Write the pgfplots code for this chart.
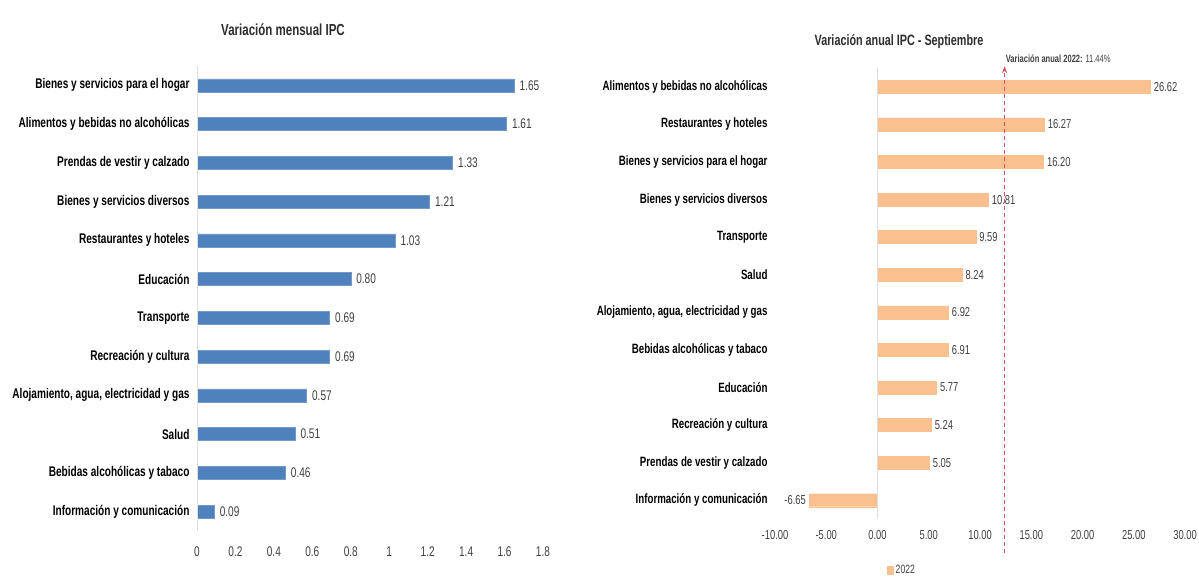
\documentclass[border=0pt]{standalone}
\usepackage{fontspec}
\setmainfont{Liberation Sans}[FakeStretch=0.72]
\usepackage{pgfplots}
\usepackage{pgfplotstable}
\pgfplotsset{compat=1.18}
\usetikzlibrary{arrows.meta}

\definecolor{barblue}{RGB}{79,129,189}
\definecolor{barpeach}{RGB}{250,192,143}
\definecolor{txtgray}{RGB}{64,64,64}
\definecolor{linered}{RGB}{215,80,95}

% mensual, de abajo hacia arriba
\pgfplotstableread{
idx val
0 0.09
1 0.46
2 0.51
3 0.57
4 0.69
5 0.69
6 0.80
7 1.03
8 1.21
9 1.33
10 1.61
11 1.65
}\mensual

% anual, de abajo hacia arriba
\pgfplotstableread{
idx val
0 -6.65
1 5.05
2 5.24
3 5.77
4 6.91
5 6.92
6 8.24
7 9.59
8 10.81
9 16.20
10 16.27
11 26.62
}\anual

\newcommand\catfont{\fontsize{14}{16}\selectfont\bfseries}
\newcommand\numfont{\fontsize{14}{16}\selectfont}

\begin{document}
\begin{tikzpicture}
\useasboundingbox (0,0) rectangle (1199pt,576pt);

\node[font=\fontsize{16}{18}\selectfont\bfseries, text=txtgray!70!black] at (283pt,546pt) {Variación mensual IPC};
\node[font=\fontsize{15}{17}\selectfont\bfseries, text=txtgray!70!black] at (899pt,534pt) {Variación anual IPC - Septiembre};

\begin{axis}[
    at={(197pt,45pt)}, anchor=south west,
    scale only axis, width=346pt, height=465pt,
    xbar, bar width=13pt,
    xmin=0, xmax=1.8, ymin=-0.5, ymax=11.5,
    axis line style={draw=none},
    major tick length=0pt,
    xtick={0,0.2,0.4,0.6,0.8,1,1.2,1.4,1.6,1.8},
    ytick={0,1,2,3,4,5,6,7,8,9,10,11},
    yticklabels={Información y comunicación, Bebidas alcohólicas y tabaco, Salud,
        {Alojamiento, agua, electricidad y gas}, Recreación y cultura, Transporte,
        Educación, Restaurantes y hoteles, Bienes y servicios diversos,
        Prendas de vestir y calzado, Alimentos y bebidas no alcohólicas,
        Bienes y servicios para el hogar},
    yticklabel style={font=\catfont, text=black, xshift=-4pt},
    xticklabel style={font=\numfont, text=txtgray, yshift=-12pt},
    /pgf/number format/assume math mode=true,
    nodes near coords,
    nodes near coords style={font=\numfont, text=txtgray, xshift=2pt,
        /pgf/number format/.cd, fixed, fixed zerofill, precision=2, assume math mode=true},
    clip=false,
]
\addplot[fill=barblue, draw=barblue!80!white] table[x=val, y=idx] {\mensual};
\draw[gray!25] (axis cs:0,-0.5) -- (axis cs:0,11.5);
\end{axis}

\begin{axis}[
    at={(775pt,57pt)}, anchor=south west,
    scale only axis, width=410pt, height=451pt,
    xbar, bar width=13pt,
    xmin=-10, xmax=30, ymin=-0.5, ymax=11.5,
    axis line style={draw=none},
    major tick length=0pt,
    xtick={-10,-5,0,5,10,15,20,25,30},
    ytick={0,1,2,3,4,5,6,7,8,9,10,11},
    yticklabels={Información y comunicación, Prendas de vestir y calzado,
        Recreación y cultura, Educación, Bebidas alcohólicas y tabaco,
        {Alojamiento, agua, electricidad y gas}, Salud, Transporte,
        Bienes y servicios diversos, Bienes y servicios para el hogar,
        Restaurantes y hoteles, Alimentos y bebidas no alcohólicas},
    yticklabel style={font=\fontsize{13.5}{15}\selectfont\bfseries, text=black, xshift=-4pt},
    xticklabel style={font=\fontsize{13}{15}\selectfont, text=txtgray, yshift=-8pt,
        /pgf/number format/.cd, fixed, fixed zerofill, precision=2},
    /pgf/number format/assume math mode=true,
    nodes near coords,
    nodes near coords style={font=\fontsize{13}{15}\selectfont, text=txtgray,
        /pgf/number format/.cd, fixed, fixed zerofill, precision=2, assume math mode=true},
    legend style={at={(0.31,-0.113)}, anchor=center, draw=none, fill=none,
        font=\fontsize{12}{14}\selectfont, text=txtgray},
    legend image code/.code={\fill[barpeach] (0pt,-4pt) rectangle (6pt,4pt);},
    clip=false,
]
\addplot[fill=barpeach, draw=barpeach] table[x=val, y=idx] {\anual};
\addlegendentry{2022}
\draw[gray!25] (axis cs:0,-0.5) -- (axis cs:0,11.5);
\draw[linered, line width=0.9pt, dash pattern=on 4pt off 3pt, -{Stealth[length=7pt,width=5pt]}] (axis cs:12.4,-1.4) -- (axis cs:12.4,11.55);
\node[anchor=south west, inner sep=1pt, font=\fontsize{10.5}{12}\selectfont, text=txtgray]
    at (axis cs:12.4,11.6) {\textbf{Variación anual 2022:} 11.44\%};
\end{axis}
\end{tikzpicture}
\end{document}
